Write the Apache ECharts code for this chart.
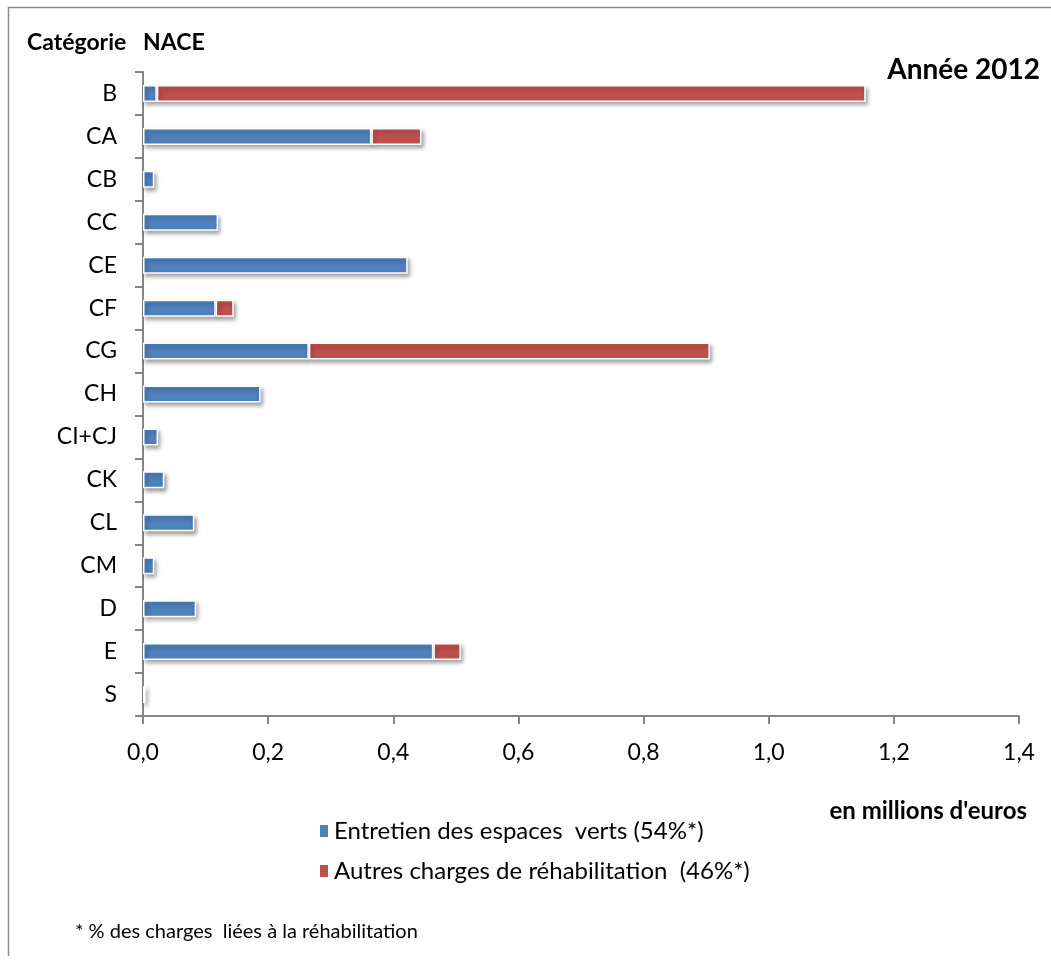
<!DOCTYPE html>
<html>
<head>
<meta charset="utf-8">
<script src="https://cdn.jsdelivr.net/npm/echarts@6/dist/echarts.min.js"></script>
<style>
html,body{margin:0;padding:0;background:#fff;}
#chart{width:1051px;height:965px;}
</style>
</head>
<body>
<div id="chart"></div>
<script>
const categories = ['B','CA','CB','CC','CE','CF','CG','CH','CI+CJ','CK','CL','CM','D','E','S'];
const entretien = [0.022,0.365,0.018,0.120,0.423,0.116,0.265,0.188,0.024,0.034,0.082,0.018,0.085,0.464,0.004];
const autres    = [1.133,0.080,0,0,0,0.029,0.641,0,0,0,0,0,0,0.044,0];
const xTicks = [0,0.2,0.4,0.6,0.8,1.0,1.2,1.4];
const seriesNames = ['Entretien des espaces  verts (54%*)','Autres charges de réhabilitation  (46%*)'];

const FONT = 'Lato, "Liberation Sans", sans-serif';
const chart = echarts.init(document.getElementById('chart'));
const barStyle = (c) => ({
  color: c,
  borderColor: '#ffffff',
  borderWidth: 1.5,
  shadowColor: 'rgba(0,0,0,0.35)',
  shadowBlur: 4,
  shadowOffsetX: 2,
  shadowOffsetY: 3
});
const txt = (text, x, y, font, align) => ({
  type: 'text', x: x, y: y,
  style: { text: text, font: font, fill: '#000', align: align, verticalAlign: 'middle',
           textAlign: align, textVerticalAlign: 'middle' }
});
chart.setOption({
  animation: false,
  backgroundColor: '#ffffff',
  textStyle: { fontFamily: FONT },
  grid: { left: 143, right: 32, top: 72, bottom: 249 },
  legend: {
    orient: 'vertical',
    left: 318,
    top: 817,
    padding: 0,
    itemGap: 12,
    itemWidth: 10,
    itemHeight: 14,
    icon: 'rect',
    textStyle: { fontSize: 24, lineHeight: 28, color: '#000', fontFamily: FONT },
    data: seriesNames
  },
  xAxis: {
    type: 'value',
    min: xTicks[0],
    max: xTicks[xTicks.length - 1],
    interval: 0.2,
    splitLine: { show: false },
    axisLine: { show: true, lineStyle: { color: '#868686', width: 2 } },
    axisTick: { show: true, length: 8, lineStyle: { color: '#868686', width: 2 } },
    axisLabel: {
      margin: 25, fontSize: 23, color: '#000', fontFamily: FONT,
      formatter: v => v.toFixed(1).replace('.', ',')
    }
  },
  yAxis: {
    type: 'category',
    data: categories,
    inverse: true,
    axisLine: { show: true, lineStyle: { color: '#868686', width: 2 } },
    axisTick: { show: true, length: 8, lineStyle: { color: '#868686', width: 2 } },
    axisLabel: { margin: 26, fontSize: 23, color: '#000', fontFamily: FONT }
  },
  series: [
    {
      name: seriesNames[0], type: 'bar', stack: 'total', barWidth: 17,
      itemStyle: barStyle('#4F81BD'),
      data: entretien.map(v => v === 0 ? '-' : v)
    },
    {
      name: seriesNames[1], type: 'bar', stack: 'total', barWidth: 17,
      itemStyle: barStyle('#C0504D'),
      data: autres.map(v => v === 0 ? '-' : v)
    }
  ],
  graphic: [
    { type: 'polyline', shape: { points: [[8.5, 956], [8.5, 7.5], [1051, 7.5]] },
      style: { stroke: '#8c8c8c', lineWidth: 1.5, fill: null } },
    txt('Catégorie   NACE', 27, 43, 'bold 23px ' + FONT, 'left'),
    txt('Année 2012', 1040, 70, 'bold 28px ' + FONT, 'right'),
    txt("en millions d'euros", 1027, 811, 'bold 24px ' + FONT, 'right'),
    txt('* % des charges  liées à la réhabilitation', 75, 932, '20px ' + FONT, 'left')
  ]
});
</script>
</body>
</html>
